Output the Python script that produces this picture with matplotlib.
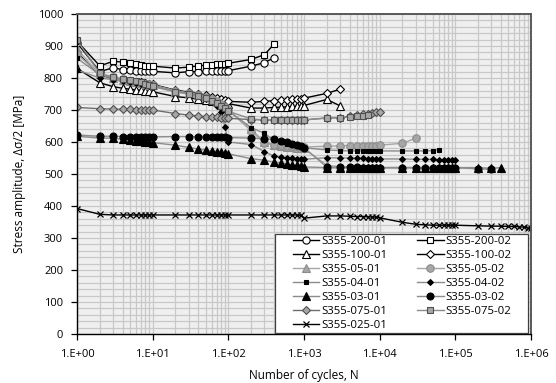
import matplotlib
matplotlib.use("Agg")
import matplotlib.pyplot as plt
from matplotlib.ticker import FixedLocator, MultipleLocator, FuncFormatter, NullFormatter
from matplotlib.patches import Rectangle
import numpy as np

plt.rcParams['font.family'] = ['Open Sans', 'DejaVu Sans']

# cycle counts recorded in each decade
dec0 = [1, 2, 3, 4, 5, 6, 7, 8, 9, 10]
dec1 = [20, 30, 40, 50, 60, 70, 80, 90, 100]
dec2 = [200, 300, 400, 500, 600, 700, 800, 900, 1000]
dec3 = [2000, 3000, 4000, 5000, 6000, 7000, 8000, 9000, 10000]
dec4 = [20000, 30000, 40000, 50000, 60000, 70000, 80000, 90000, 100000]
dec5 = [200000, 300000, 400000, 500000, 600000, 700000, 800000, 900000, 1000000]

n_200_01 = dec0 + dec1 + [200, 300, 400]
s_200_01 = [910, 820, 832, 826, 824, 823, 822, 822, 821, 821,
            816, 820, 820, 821, 821, 822, 822, 823, 823,
            837, 848, 863]
n_200_02 = dec0 + dec1 + [200, 300, 400]
s_200_02 = [915, 838, 852, 850, 846, 843, 841, 839, 838, 837,
            831, 834, 838, 840, 842, 843, 844, 845, 846,
            858, 873, 905]

n_100_01 = dec0 + dec1 + dec2 + [2000, 3000]
s_100_01 = [830, 785, 773, 768, 765, 763, 761, 759, 758, 757,
            742, 738, 734, 731, 729, 727, 725, 723, 720,
            706, 706, 708, 709, 710, 711, 712, 713, 714,
            733, 713]
n_100_02 = dec0 + dec1 + dec2 + [2000, 3000]
s_100_02 = [880, 808, 800, 795, 792, 789, 786, 784, 782, 780,
            762, 756, 751, 746, 741, 737, 733, 730, 727,
            724, 727, 729, 730, 731, 733, 734, 735, 737,
            752, 765]

n_05_01 = dec0 + dec1 + dec2 + dec3 + dec4
s_05_01 = [890, 812, 800, 795, 790, 787, 784, 781, 779, 777,
           760, 752, 746, 740, 733, 726, 718, 710, 700,
           640, 600, 592, 588, 585, 583, 582, 581, 580,
           527, 523, 522, 521, 521, 520, 520, 520, 520,
           520, 520, 520, 520, 520, 520, 520, 520, 520]
n_05_02 = dec0 + dec1 + dec2 + dec3 + [20000, 30000]
s_05_02 = [875, 812, 802, 796, 791, 788, 785, 782, 780, 778,
           760, 753, 747, 741, 734, 727, 719, 710, 700,
           635, 596, 592, 590, 588, 587, 586, 585, 584,
           587, 588, 589, 589, 589, 589, 589, 589, 590,
           596, 612]

n_04_01 = dec0 + dec1 + dec2 + dec3 + [20000, 30000, 40000, 50000, 60000]
s_04_01 = [862, 810, 800, 795, 790, 787, 784, 781, 779, 777,
           760, 752, 746, 740, 732, 724, 715, 705, 697,
           645, 627, 605, 600, 595, 590, 587, 584, 582,
           575, 573, 572, 572, 572, 572, 572, 572, 572,
           572, 572, 572, 573, 576]
n_04_02 = dec0 + dec1 + dec2 + dec3 + dec4
s_04_02 = [825, 800, 795, 790, 786, 783, 780, 777, 775, 773,
           757, 750, 743, 735, 727, 712, 695, 648, 600,
           592, 570, 556, 553, 551, 549, 548, 547, 546,
           551, 550, 550, 549, 549, 548, 548, 547, 547,
           547, 546, 546, 546, 545, 545, 545, 545, 544]

n_03_01 = dec0 + dec1 + dec2 + dec3 + dec4 + [200000, 300000, 400000]
s_03_01 = [618, 612, 612, 608, 606, 604, 602, 600, 599, 598,
           590, 583, 578, 575, 572, 570, 568, 566, 563,
           548, 543, 537, 534, 531, 529, 527, 525, 522,
           520, 520, 520, 520, 520, 520, 520, 520, 520,
           520, 520, 520, 520, 520, 520, 520, 520, 520,
           520, 518, 520]
n_03_02 = dec0 + dec1 + dec2 + dec3 + dec4 + [200000, 300000]
s_03_02 = [622, 618, 618, 617, 617, 617, 616, 616, 616, 616,
           617, 617, 616, 616, 616, 616, 616, 615, 614,
           612, 610, 608, 604, 600, 595, 590, 586, 582,
           522, 521, 521, 521, 520, 520, 520, 520, 520,
           520, 520, 520, 520, 520, 520, 520, 520, 520,
           516, 515]

n_075_01 = dec0 + dec1 + dec2 + dec3
s_075_01 = [708, 704, 703, 702, 702, 701, 701, 700, 700, 700,
            689, 684, 681, 679, 678, 677, 676, 675, 674,
            670, 669, 669, 669, 669, 669, 669, 669, 669,
            675, 676, 680, 683, 686, 689, 691, 693, 695]
n_075_02 = dec0 + dec1 + dec2 + [2000, 3000, 4000, 5000, 6000, 7000]
s_075_02 = [918, 815, 803, 798, 794, 790, 786, 782, 778, 775,
            757, 750, 744, 737, 729, 721, 713, 705, 696,
            672, 669, 669, 669, 669, 669, 669, 669, 669,
            675, 676, 678, 680, 682, 684]

n_025_01 = dec0 + dec1 + dec2 + dec3 + dec4 + dec5
s_025_01 = [392, 374, 372, 372, 372, 372, 372, 372, 372, 372,
            372, 372, 372, 372, 372, 372, 372, 372, 372,
            372, 372, 372, 372, 372, 372, 372, 371, 362,
            369, 369, 368, 367, 367, 366, 366, 365, 363,
            349, 343, 341, 340, 340, 340, 340, 340, 340,
            338, 337, 337, 336, 336, 335, 334, 332, 330]

series = [
    ("S355-200-01", n_200_01, s_200_01, dict(color='black', marker='o', ms=5.2, mfc='white', mec='black')),
    ("S355-200-02", n_200_02, s_200_02, dict(color='black', marker='s', ms=5.0, mfc='white', mec='black')),
    ("S355-100-01", n_100_01, s_100_01, dict(color='black', marker='^', ms=5.4, mfc='white', mec='black')),
    ("S355-100-02", n_100_02, s_100_02, dict(color='black', marker='D', ms=4.0, mfc='white', mec='black')),
    ("S355-05-01", n_05_01, s_05_01, dict(color='#a6a6a6', marker='^', ms=5.4, mfc='#a6a6a6', mec='#8c8c8c')),
    ("S355-05-02", n_05_02, s_05_02, dict(color='#a6a6a6', marker='o', ms=5.4, mfc='#a6a6a6', mec='#8c8c8c')),
    ("S355-04-01", n_04_01, s_04_01, dict(color='#8c8c8c', marker='s', ms=3.4, mfc='black', mec='black')),
    ("S355-04-02", n_04_02, s_04_02, dict(color='#8c8c8c', marker='D', ms=3.0, mfc='black', mec='black')),
    ("S355-03-01", n_03_01, s_03_01, dict(color='#8c8c8c', marker='^', ms=5.4, mfc='black', mec='black')),
    ("S355-03-02", n_03_02, s_03_02, dict(color='#8c8c8c', marker='o', ms=5.0, mfc='black', mec='black')),
    ("S355-075-01", n_075_01, s_075_01, dict(color='#6e6e6e', marker='D', ms=4.2, mfc='#a6a6a6', mec='#505050')),
    ("S355-075-02", n_075_02, s_075_02, dict(color='#8c8c8c', marker='s', ms=5.0, mfc='#a6a6a6', mec='#505050')),
    ("S355-025-01", n_025_01, s_025_01, dict(color='black', marker='x', ms=5.0, mfc='black', mec='black', mew=0.9)),
]

fig = plt.figure(figsize=(5.56, 3.83), dpi=100)
ax = fig.add_axes([77/556, 1-334/383, 454/556, 320/383])
ax.set_facecolor('#efefef')

handles = {}
for name, n, s, st in series:
    mew = st.pop('mew', 0.8)
    h, = ax.plot(n, s, lw=1.0, mew=mew, label=name, **st)
    handles[name] = h

ax.set_xscale('log')
ax.set_xlim(1, 1e6)
ax.set_ylim(0, 1000)
ax.yaxis.set_major_locator(MultipleLocator(100))
ax.yaxis.set_minor_locator(MultipleLocator(20))
ax.xaxis.set_major_locator(FixedLocator([1, 1e1, 1e2, 1e3, 1e4, 1e5, 1e6]))
ax.xaxis.set_minor_locator(matplotlib.ticker.LogLocator(base=10, subs=np.arange(2, 10), numticks=20))
ax.xaxis.set_minor_formatter(NullFormatter())
ax.xaxis.set_major_formatter(FuncFormatter(lambda v, p: "1.E+%02d" % int(round(np.log10(v)))))

ax.grid(True, which='both', color='#c8c8c8', lw=0.9)
ax.set_axisbelow(True)
ax.tick_params(which='major', direction='out', length=4, width=0.9, labelsize=8, pad=6, colors='black')
ax.tick_params(axis='x', which='major', pad=7)
ax.tick_params(which='minor', length=0)
for side in ['left', 'bottom']:
    ax.spines[side].set_color('black')
    ax.spines[side].set_linewidth(1.0)
for side in ['top', 'right']:
    ax.spines[side].set_color('#595959')
    ax.spines[side].set_linewidth(1.4)

ax.set_xlabel("Number of cycles, N", fontsize=8.5, labelpad=6)
ax.set_ylabel("Stress amplitude, \u0394\u03c3/2 [MPa]", fontsize=8.5, labelpad=8)

# legend box drawn by hand (wider side padding than matplotlib allows), legend without frame
box = Rectangle((275/556, 1-333/383), 253/556, 99/383, transform=fig.transFigure,
                facecolor='white', edgecolor='#404040', lw=0.9, zorder=5, clip_on=False)
ax.add_patch(box)

order = ["S355-200-01", "S355-100-01", "S355-05-01", "S355-04-01", "S355-03-01", "S355-075-01", "S355-025-01",
         "S355-200-02", "S355-100-02", "S355-05-02", "S355-04-02", "S355-03-02", "S355-075-02"]
leg = ax.legend([handles[k] for k in order], order, ncol=2, loc='center',
                bbox_to_anchor=((275+528)/2/556 + 1/556, 1-(234+333)/2/383), bbox_transform=fig.transFigure,
                fontsize=8.2, frameon=False, borderaxespad=0, handlelength=2.3, handletextpad=0.2,
                columnspacing=2.6, labelspacing=0.25, borderpad=0.1)
leg.set_zorder(6)

fig.savefig("out.png", dpi=100)
